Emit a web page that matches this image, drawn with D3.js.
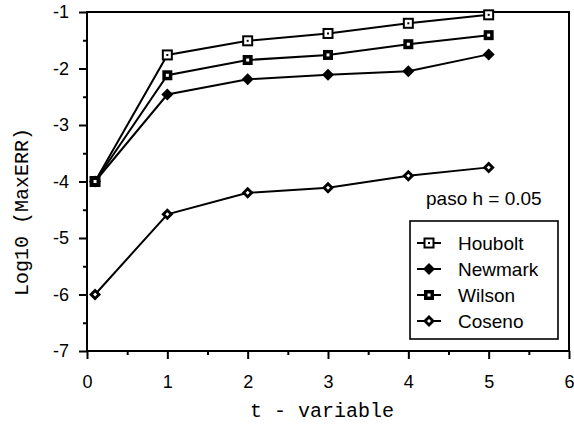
<!DOCTYPE html>
<html>
<head>
<meta charset="utf-8">
<script src="https://cdn.jsdelivr.net/npm/d3@7"></script>
<style>
  body { margin: 0; background: #fff; }
  svg { display: block; }
</style>
</head>
<body>
<div id="chart"></div>
<script>
// t values and log10(MaxERR) for each method
var tValues = [0.1, 1, 2, 3, 4, 5];
var houbolt = [-4, -1.76, -1.51, -1.38, -1.2, -1.05];
var newmark = [-4, -2.46, -2.19, -2.11, -2.05, -1.75];
var wilson  = [-4, -2.12, -1.85, -1.76, -1.57, -1.41];
var coseno  = [-6, -4.58, -4.2, -4.11, -3.9, -3.75];

var seriesNames = ["Houbolt", "Newmark", "Wilson", "Coseno"];
var seriesValues = [houbolt, newmark, wilson, coseno];

var xTicks = [0, 1, 2, 3, 4, 5, 6];
var xMinor = [0.5, 1.5, 2.5, 3.5, 4.5, 5.5];
var yTicks = [-7, -6, -5, -4, -3, -2, -1];
var yMinor = [-6.5, -5.5, -4.5, -3.5, -2.5, -1.5];

var W = 574, H = 424;
var margin = {top: 12, right: 5, bottom: 73, left: 87};
var width = W - margin.left - margin.right,
    height = H - margin.top - margin.bottom;

var svg = d3.select("#chart").append("svg")
    .attr("width", W)
    .attr("height", H)
  .append("g")
    .attr("transform", "translate(" + margin.left + "," + margin.top + ")");

var x = d3.scaleLinear().domain([0, 6]).range([0, width]);
var y = d3.scaleLinear().domain([-7, -1]).range([height, 0]);

var sans = "'Liberation Sans', Arial, Helvetica, sans-serif";
var mono = "'Liberation Mono', 'Courier New', Courier, monospace";

// minor ticks
svg.append("g")
    .attr("transform", "translate(0," + height + ")")
    .call(d3.axisBottom(x).tickValues(xMinor).tickSize(4).tickFormat(""))
    .call(function(g){ g.select(".domain").remove(); })
    .selectAll("line").attr("stroke-width", 2);
svg.append("g")
    .call(d3.axisLeft(y).tickValues(yMinor).tickSize(4).tickFormat(""))
    .call(function(g){ g.select(".domain").remove(); })
    .selectAll("line").attr("stroke-width", 2);

// major ticks + labels
var xAxis = svg.append("g")
    .attr("transform", "translate(0," + height + ")")
    .call(d3.axisBottom(x).tickValues(xTicks).tickSize(8).tickPadding(16)
      .tickFormat(function(d){ return String(d); }));
xAxis.select(".domain").remove();
xAxis.selectAll("line").attr("stroke-width", 2);
xAxis.selectAll("text").style("font-family", sans).style("font-size", "18px").attr("fill", "#000");

var yAxis = svg.append("g")
    .call(d3.axisLeft(y).tickValues(yTicks).tickSize(8).tickPadding(10)
      .tickFormat(function(d){ return String(d); }));
yAxis.select(".domain").remove();
yAxis.selectAll("line").attr("stroke-width", 2);
yAxis.selectAll("text").style("font-family", sans).style("font-size", "18px").attr("fill", "#000");

// frame
svg.append("rect")
    .attr("x", 0).attr("y", 0)
    .attr("width", width).attr("height", height)
    .attr("fill", "none").attr("stroke", "#000").attr("stroke-width", 2);

// marker drawing
function drawMarker(g, name) {
  if (name == "Houbolt") {
    g.append("rect").attr("x", -4.5).attr("y", -4.5).attr("width", 9).attr("height", 9)
      .attr("fill", "#fff").attr("stroke", "#000").attr("stroke-width", 2);
    g.append("rect").attr("x", -1).attr("y", -1).attr("width", 2).attr("height", 2).attr("fill", "#000");
  } else if (name == "Wilson") {
    g.append("rect").attr("x", -5).attr("y", -5).attr("width", 10).attr("height", 10).attr("fill", "#000");
    g.append("rect").attr("x", -1.5).attr("y", -1.5).attr("width", 3).attr("height", 3).attr("fill", "#fff");
  } else if (name == "Newmark") {
    g.append("path").attr("d", "M0,-6L6,0L0,6L-6,0Z").attr("fill", "#000");
  } else {
    g.append("path").attr("d", "M0,-6L6,0L0,6L-6,0Z").attr("fill", "#000");
    g.append("path").attr("d", "M0,-2L2,0L0,2L-2,0Z").attr("fill", "#fff");
  }
}

var line = d3.line()
    .x(function(d){ return x(d.t); })
    .y(function(d){ return y(d.v); });

// draw order so the Wilson square sits on top at the shared start point
var drawOrder = [3, 1, 0, 2];
drawOrder.forEach(function(si){
  var name = seriesNames[si];
  var pts = tValues.map(function(t, i){ return {t: t, v: seriesValues[si][i]}; });
  svg.append("path")
      .datum(pts)
      .attr("d", line)
      .attr("fill", "none")
      .attr("stroke", "#000")
      .attr("stroke-width", 2);
  pts.forEach(function(p){
    var g = svg.append("g").attr("transform", "translate(" + x(p.t) + "," + y(p.v) + ")");
    drawMarker(g, name);
  });
});

// note
svg.append("text")
    .attr("x", 339).attr("y", 193)
    .style("font-family", sans).style("font-size", "19px")
    .text("paso h = 0.05");

// legend
var legend = svg.append("g").attr("transform", "translate(323,209)");
legend.append("rect")
    .attr("x", 0).attr("y", 0).attr("width", 148).attr("height", 118)
    .attr("fill", "#fff").attr("stroke", "#000").attr("stroke-width", 1.6);
seriesNames.forEach(function(name, i){
  var row = legend.append("g").attr("transform", "translate(19," + (22 + i * 26) + ")");
  row.append("line").attr("x1", -12).attr("x2", 12).attr("stroke", "#000").attr("stroke-width", 2);
  drawMarker(row, name);
  row.append("text")
      .attr("x", 29).attr("y", 0).attr("dy", "0.36em")
      .style("font-family", sans).style("font-size", "19px")
      .text(name);
});

// axis titles
svg.append("text")
    .attr("x", (250 + 394) / 2 - margin.left).attr("y", 417 - margin.top)
    .attr("text-anchor", "middle")
    .style("font-family", mono).style("font-size", "20px")
    .text("t - variable");

svg.append("text")
    .attr("transform", "translate(" + (28 - margin.left) + "," + (212 - margin.top) + ") rotate(-90)")
    .attr("text-anchor", "middle")
    .style("font-family", mono).style("font-size", "20px")
    .text("Log10 (MaxERR)");
</script>
</body>
</html>
